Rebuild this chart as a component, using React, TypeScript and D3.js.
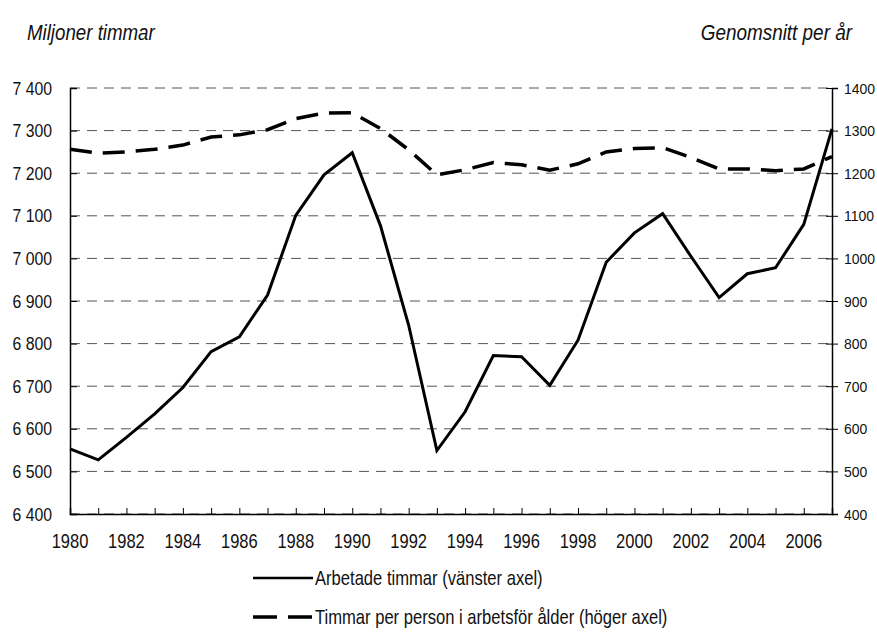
import * as d3 from 'd3';
import React, { useEffect, useRef } from 'react';

const years = d3.range(1980, 2008);

// Arbetade timmar, miljoner (vänster axel)
const hoursWorked = [
  6553, 6527, 6580, 6635, 6697, 6781, 6816, 6914, 7101, 7196,
  7248, 7077, 6843, 6549, 6640, 6772, 6769, 6702, 6808, 6991,
  7060, 7105, 7005, 6908, 6964, 6978, 7080, 7304,
];

// Timmar per person i arbetsför ålder (höger axel)
const hoursPerPerson = [
  1256, 1247, 1250, 1256, 1266, 1285, 1290, 1302, 1328, 1341,
  1342, 1305, 1255, 1196, 1208, 1225, 1220, 1207, 1222, 1250,
  1258, 1260, 1237, 1210, 1210, 1206, 1210, 1239,
];

const leftTicks = d3.range(6400, 7401, 100);
const rightTicks = d3.range(400, 1401, 100);
const xLabelYears = d3.range(1980, 2007, 2);

const FONT = '"Liberation Sans", Arial, sans-serif';

const W = 877;
const H = 637;
const margin = { top: 88, right: 45, bottom: 123, left: 70 };

type Sel = d3.Selection<SVGGElement, unknown, null, undefined>;

// text drawn narrow: translate to anchor point, then squeeze x
function narrowText(
  g: Sel,
  x: number,
  y: number,
  str: string,
  anchor: string,
  size: number,
  sx: number,
  italic = false
) {
  g.append('text')
    .attr('transform', `translate(${x},${y}) scale(${sx},1)`)
    .attr('text-anchor', anchor)
    .attr('font-size', size)
    .attr('font-style', italic ? 'italic' : 'normal')
    .attr('fill', '#111')
    .text(str);
}

const App: React.FC = () => {
  const ref = useRef<HTMLDivElement>(null);

  useEffect(() => {
    const x = d3.scaleLinear().domain([1980, 2007]).range([margin.left, W - margin.right]);
    const yL = d3.scaleLinear().domain([6400, 7400]).range([H - margin.bottom, margin.top]);
    const yR = d3.scaleLinear().domain([400, 1400]).range([H - margin.bottom, margin.top]);

    const fmt = d3.formatLocale({ decimal: ',', thousands: ' ', grouping: [3], currency: ['', ' kr'] }).format(',d');

    const svg = d3
      .create('svg')
      .attr('width', W)
      .attr('height', H)
      .attr('viewBox', [0, 0, W, H])
      .attr('style', `position:absolute;left:0;top:0;background:#fff;font-family:${FONT};`);

    // grid
    svg
      .append('g')
      .selectAll('line')
      .data(leftTicks)
      .join('line')
      .attr('x1', margin.left)
      .attr('x2', W - margin.right)
      .attr('y1', d => yL(d))
      .attr('y2', d => yL(d))
      .attr('stroke', '#555')
      .attr('stroke-width', 1)
      .attr('stroke-dasharray', '10,7');

    // axes (lines and ticks from d3, labels drawn narrow below)
    const gL = svg
      .append('g')
      .attr('transform', `translate(${margin.left},0)`)
      .call(d3.axisLeft(yL).tickValues(leftTicks).tickSize(-7).tickFormat(() => ''));
    const gR = svg
      .append('g')
      .attr('transform', `translate(${W - margin.right},0)`)
      .call(d3.axisRight(yR).tickValues(rightTicks).tickSize(6).tickFormat(() => ''));
    gR.selectAll('.tick line').attr('x1', -6);
    const gB = svg
      .append('g')
      .attr('transform', `translate(0,${H - margin.bottom})`)
      .call(d3.axisBottom(x).tickValues(years).tickSize(-6).tickFormat(() => ''));
    [gL, gR, gB].forEach(g => {
      g.select('.domain').attr('stroke', '#000').attr('stroke-width', 1.5);
      g.selectAll('.tick line').attr('stroke', '#000');
    });

    const labels = svg.append('g') as unknown as Sel;
    leftTicks.forEach(v => narrowText(labels, 52, yL(v) + 6.6, fmt(v), 'end', 18.6, 0.85));
    rightTicks.forEach(v => narrowText(labels, 844, yR(v) + 5.5, String(v), 'start', 15.5, 0.9));
    xLabelYears.forEach(v => narrowText(labels, x(v), H - margin.bottom + 34, String(v), 'middle', 20, 0.825));

    // lines
    const lineL = d3
      .line<number>()
      .x((_, i) => x(years[i]))
      .y(d => yL(d));
    const lineR = d3
      .line<number>()
      .x((_, i) => x(years[i]))
      .y(d => yR(d));

    svg
      .append('path')
      .datum(hoursPerPerson)
      .attr('d', lineR)
      .attr('fill', 'none')
      .attr('stroke', '#000')
      .attr('stroke-width', 3.5)
      .attr('stroke-dasharray', '22,11');

    svg
      .append('path')
      .datum(hoursWorked)
      .attr('d', lineL)
      .attr('fill', 'none')
      .attr('stroke', '#000')
      .attr('stroke-width', 3);

    // axis titles
    narrowText(labels, 27, 40, 'Miljoner timmar', 'start', 22, 0.85, true);
    narrowText(labels, 852, 40, 'Genomsnitt per år', 'end', 22, 0.86, true);

    // legend
    const legend = [
      { label: 'Arbetade timmar (vänster axel)', dash: null as string | null, y: 578, w: 2.5 },
      { label: 'Timmar per person i arbetsför ålder (höger axel)', dash: '24,11', y: 617, w: 3.5 },
    ];
    const lg = svg.append('g');
    legend.forEach(d => {
      lg.append('line')
        .attr('x1', 253)
        .attr('x2', 313)
        .attr('y1', d.y)
        .attr('y2', d.y)
        .attr('stroke', '#000')
        .attr('stroke-width', d.w)
        .attr('stroke-dasharray', d.dash);
      narrowText(lg as unknown as Sel, 315, d.y + 7, d.label, 'start', 20, 0.83);
    });

    d3.select(ref.current).html('');
    d3.select(ref.current).append(() => svg.node());
  }, []);

  return <div ref={ref}></div>;
};

export default App;
